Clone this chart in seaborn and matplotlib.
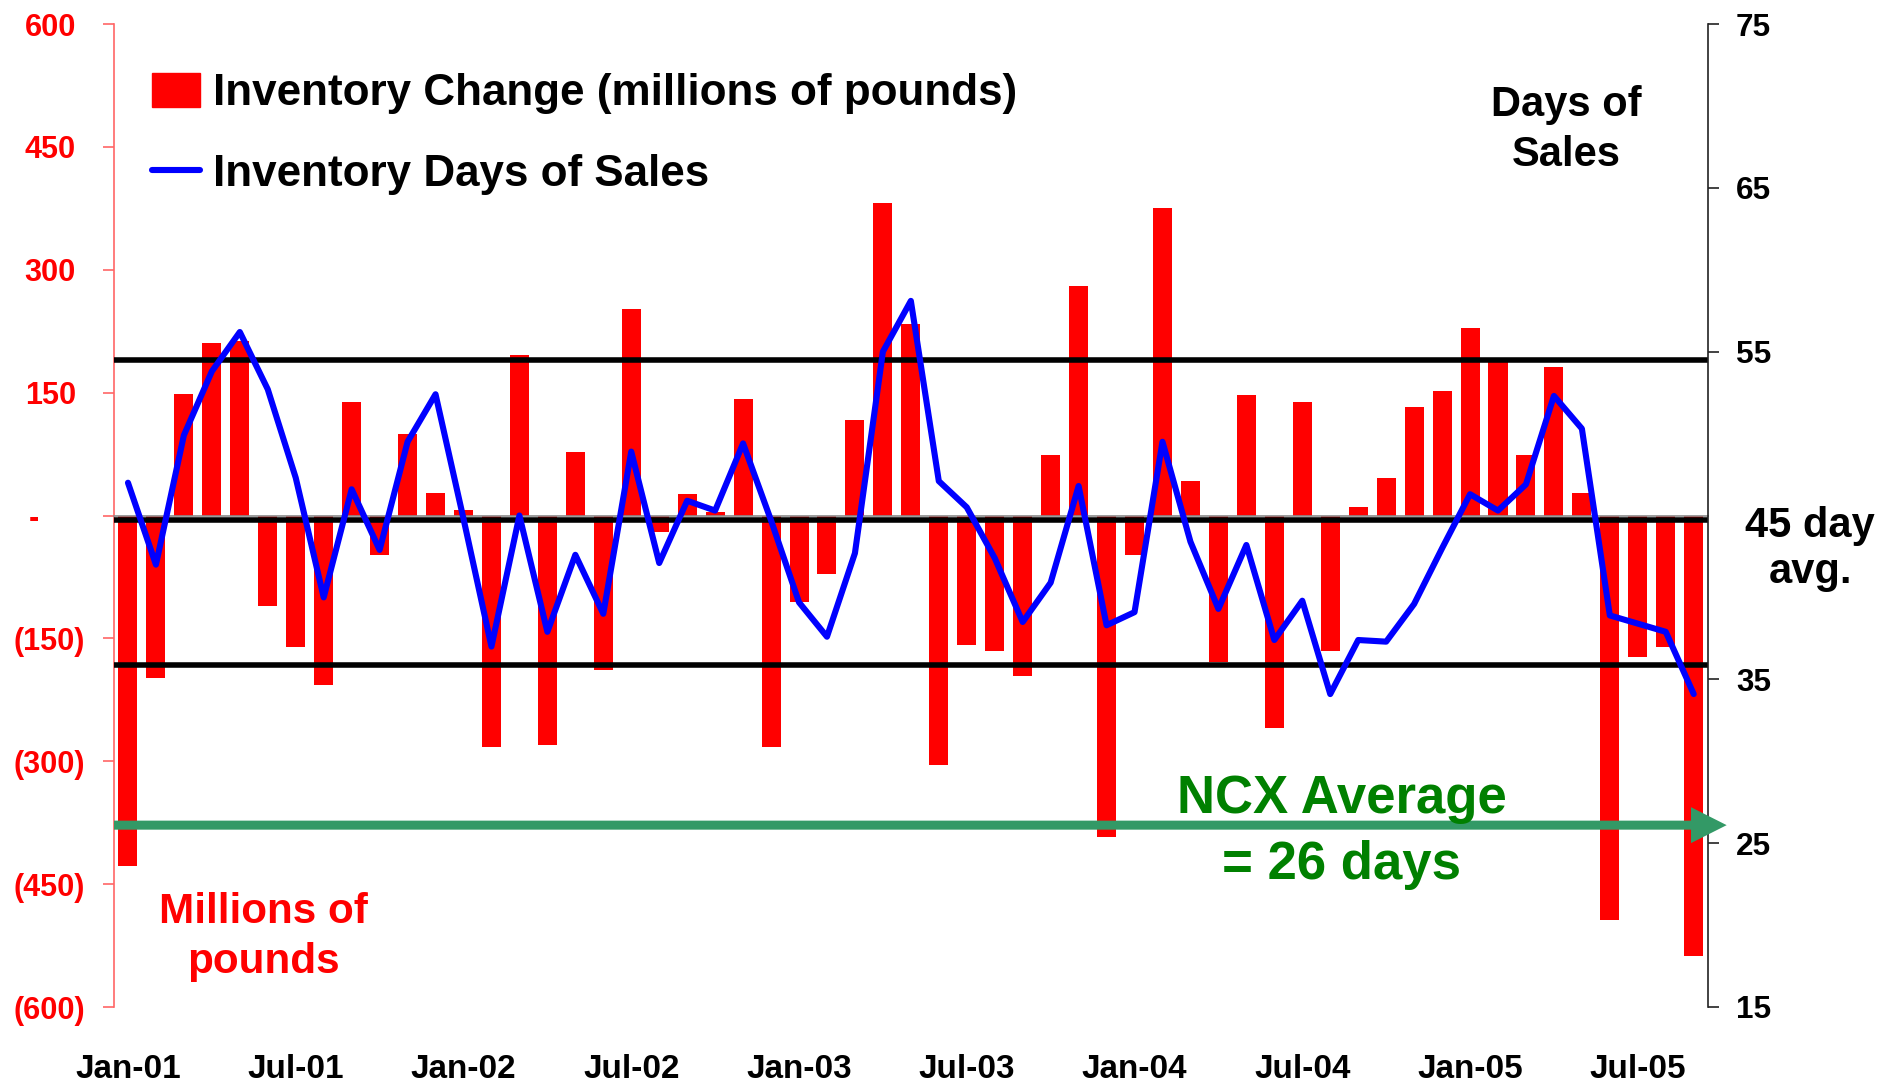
import numpy as np
import pandas as pd
import matplotlib
matplotlib.use("Agg")
import matplotlib.pyplot as plt
import matplotlib.patches as mpatches
from matplotlib.lines import Line2D
from matplotlib import transforms, font_manager as fm
import seaborn as sns

# ---------------- data ----------------
months = pd.date_range("2001-01-01", periods=57, freq="MS").strftime("%b-%y").tolist()

inventory_change = [
    -428, -198, 148, 211, 213, -110, -161, -207, 138, -48, 100, 27,
    7, -283, 196, -280, 77, -189, 252, -20, 26, 4, 142, -283,
    -105, -72, 117, 382, 234, -304, -158, -166, -196, 74, 280, -392,
    -48, 375, 42, -179, 147, -260, 138, -166, 10, 46, 133, 152,
    229, 190, 74, 181, 27, -494, -173, -161, -538,
]
days_of_sales = [
    47.0, 42.0, 49.9, 53.8, 56.2, 52.7, 47.3, 40.0, 46.6, 42.9, 49.5, 52.4,
    44.8, 37.0, 45.0, 37.9, 42.6, 39.0, 48.9, 42.1, 45.9, 45.3, 49.4, 44.7,
    39.7, 37.6, 42.7, 55.0, 58.1, 47.1, 45.5, 42.4, 38.5, 40.9, 46.8, 38.3,
    39.1, 49.5, 43.4, 39.3, 43.2, 37.4, 39.8, 34.1, 37.4, 37.3, 39.6, 43.0,
    46.3, 45.3, 46.9, 52.3, 50.3, 38.9, 38.4, 37.9, 34.1,
]
tick_months = ["Jan-01", "Jul-01", "Jan-02", "Jul-02", "Jan-03",
               "Jul-03", "Jan-04", "Jul-04", "Jan-05", "Jul-05"]
left_ticks = [600, 450, 300, 150, 0, -150, -300, -450, -600]
left_tick_labels = ["600", "450", "300", "150", "-", "(150)", "(300)", "(450)", "(600)"]
right_ticks = [75, 65, 55, 35, 25, 15]
right_tick_labels = ["75", "65", "55", "35", "25", "15"]
upper_band = 54.5
avg_days = 44.7
lower_band = 35.9
ncx_avg_days = 26.1

# ---------------- style ----------------
sns.set_theme(style="white")
names = {f.name for f in fm.fontManager.ttflist}
NARROW = "Liberation Sans Narrow" if "Liberation Sans Narrow" in names else "Liberation Sans"
k = 1.0 if NARROW == "Liberation Sans Narrow" else 0.82
plt.rcParams["font.family"] = ["Liberation Sans", "DejaVu Sans"]
plt.rcParams["font.weight"] = "bold"

W, H = 1884, 1082
fig = plt.figure(figsize=(W / 100, H / 100), dpi=100)
ax = fig.add_axes([114 / W, 1 - 1007 / H, 1593.7 / W, 983 / H])

df = pd.DataFrame({"month": months, "change": inventory_change,
                   "days": days_of_sales, "pos": np.arange(len(months))})

sns.barplot(data=df, x="month", y="change", color="#FF0000", saturation=1,
            width=0.68, linewidth=0, ax=ax, zorder=1)
ax.set_ylim(-600, 600)
ax.set_xlabel("")
ax.set_ylabel("")

for s in ["top", "right"]:
    ax.spines[s].set_visible(False)
ax.spines["left"].set_color("#FF6666")
ax.spines["left"].set_linewidth(1.2)
ax.spines["bottom"].set_position(("data", 0))
ax.spines["bottom"].set_color("#8a8a8a")
ax.spines["bottom"].set_linewidth(1.2)
ax.set_xticks(np.arange(-0.5, len(months), 6))
ax.tick_params(axis="x", direction="inout", length=17, width=1,
               color="#404040", labelbottom=False)

ax.set_yticks(left_ticks, left_tick_labels)
ax.tick_params(axis="y", direction="out", length=7.7, width=1.2,
               color="#FF6666", labelcolor="#FF0000", labelsize=26.9 * k, pad=13.2)
for lbl in ax.get_yticklabels():
    lbl.set_fontfamily([NARROW, "DejaVu Sans"])
    lbl.set_fontweight("bold")
    t = lbl.get_text()
    if t == "-":
        dx = -45.7
    elif not t.startswith("("):
        dx = -11.0 * k
    else:
        dx = 0
    if dx:
        lbl.set_transform(lbl.get_transform() +
                          transforms.ScaledTranslation(dx / 100, 0, fig.dpi_scale_trans))

# x labels on the bottom edge
sec = ax.secondary_xaxis("bottom")
sec.set_xticks([months.index(m) for m in tick_months], tick_months)
sec.tick_params(axis="x", length=0, pad=34, labelsize=29.2 * k, labelcolor="black")
for lbl in sec.get_xticklabels():
    lbl.set_fontfamily([NARROW, "DejaVu Sans"])
    lbl.set_fontweight("bold")
sec.spines["bottom"].set_visible(False)

# ---------------- right axis ----------------
ax2 = ax.twinx()
ax2.set_ylim(15, 75)
for y in [upper_band, avg_days, lower_band]:
    ax2.axhline(y, color="black", lw=4, zorder=2)
sns.lineplot(data=df, x="pos", y="days", color="#0000FF", lw=4.4, ax=ax2,
             zorder=3)
ax2.set_xlabel("")
ax2.set_ylabel("")
for s in ["top", "bottom", "left"]:
    ax2.spines[s].set_visible(False)
ax2.spines["right"].set_color("#222222")
ax2.spines["right"].set_linewidth(1.2)
ax2.set_yticks(right_ticks, right_tick_labels)
ax2.tick_params(axis="y", direction="out", length=7.7, width=1.2, color="#222222",
                labelcolor="black", labelsize=27.7 * k, pad=12.7, right=True)
for lbl in ax2.get_yticklabels():
    lbl.set_fontfamily([NARROW, "DejaVu Sans"])
    lbl.set_fontweight("bold")
ax.set_xlim(-0.5, len(months) - 0.5)

# green NCX average arrow
trans = transforms.blended_transform_factory(ax2.transAxes, ax2.transData)
ax2.annotate("", xy=(1.0119, ncx_avg_days), xytext=(0, ncx_avg_days),
             xycoords=trans, textcoords=trans, annotation_clip=False,
             arrowprops=dict(arrowstyle="simple,head_length=2.57,head_width=2.59,tail_width=0.65",
                             fc="#339966", ec="none", lw=0, shrinkA=0, shrinkB=0,
                             mutation_scale=10),
             zorder=4)

# legend
handles = [mpatches.Patch(color="#FF0000", label="Inventory Change (millions of pounds)"),
           Line2D([], [], color="#0000FF", lw=4.4, label="Inventory Days of Sales")]
leg = ax2.legend(handles=handles, loc="upper left",
                 bbox_to_anchor=(152 / W, 1 - 73 / H), bbox_transform=fig.transFigure,
                 frameon=False, borderpad=0, borderaxespad=0,
                 handlelength=1.09, handleheight=0.82, handletextpad=0.3,
                 labelspacing=0.89, labelcolor="black",
                 prop={"family": [NARROW, "DejaVu Sans"], "weight": "bold", "size": 38.7 * k})

# text annotations
fig.text(1566 / W, 1 - 130 / H, "Days of\nSales", ha="center", va="center",
         fontsize=30, color="black", fontweight="bold", linespacing=1.32)
fig.text(1810 / W, 1 - 549 / H, "45 day\navg.", ha="center", va="center",
         fontsize=30, color="black", fontweight="bold", linespacing=1.22)
fig.text(263 / W, 1 - 937 / H, "Millions of\npounds", ha="center", va="center",
         fontsize=30.4, color="#FF0000", fontweight="bold", linespacing=1.3)
fig.text(1342 / W, 1 - 832 / H, "NCX Average\n= 26 days", ha="center", va="center",
         fontsize=38, color="#008000", fontweight="bold", linespacing=1.4)

fig.savefig("out.png", dpi=100)
